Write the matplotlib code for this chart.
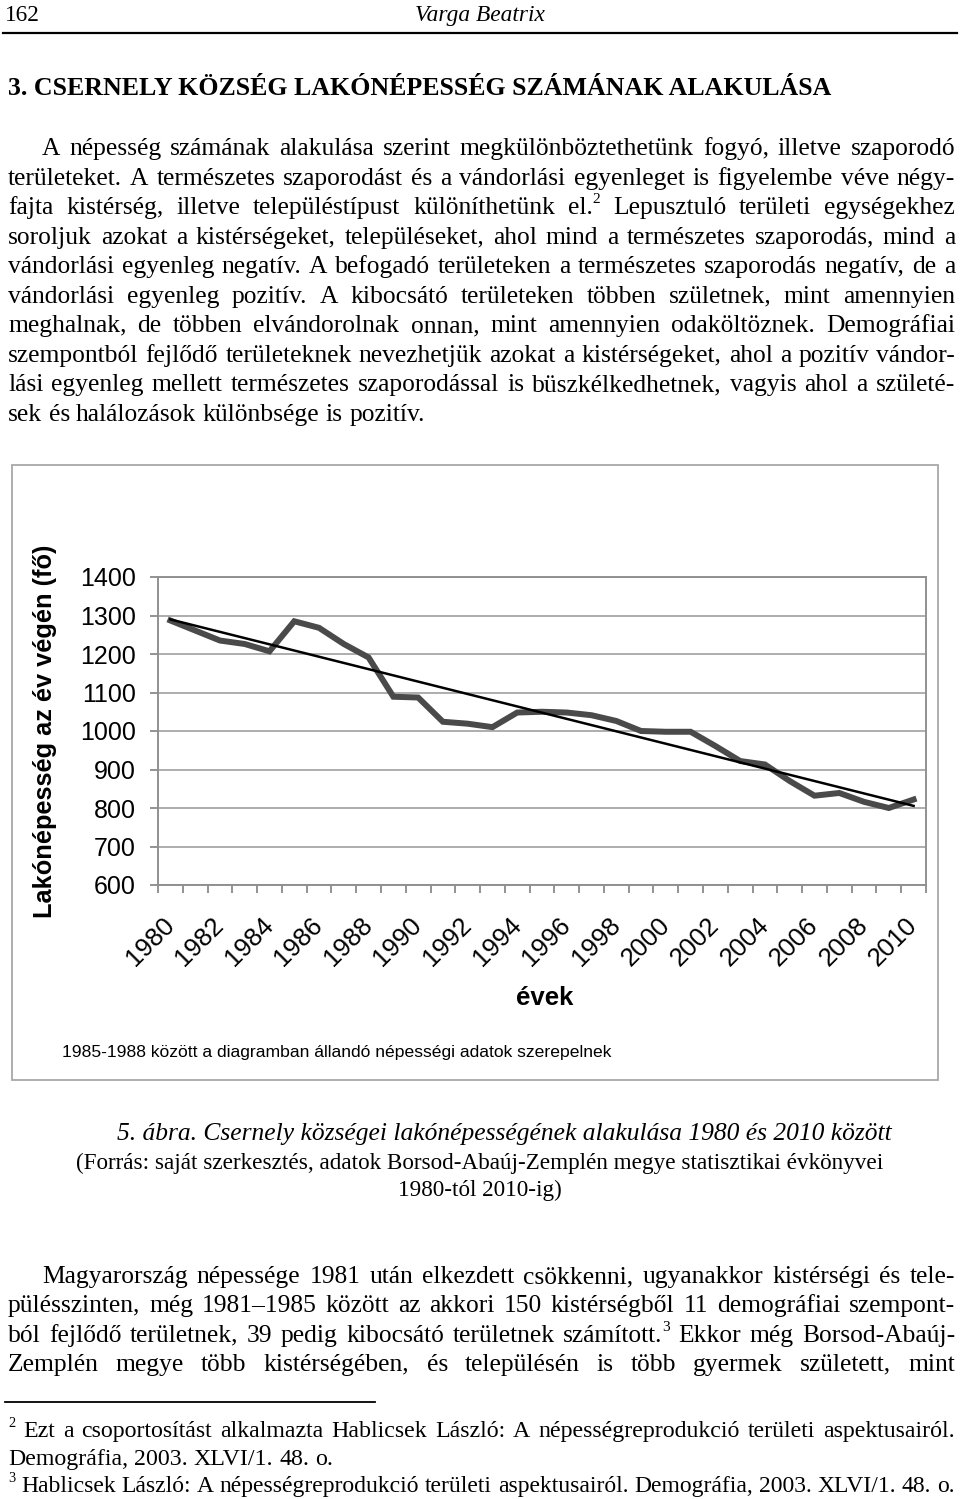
import matplotlib
matplotlib.use("Agg")
import matplotlib.pyplot as plt
from matplotlib.patches import Rectangle
from matplotlib.transforms import ScaledTranslation
import numpy as np

# data
years = list(range(1980, 2011))
population = [1287, 1261, 1235, 1226, 1207, 1285, 1268, 1226, 1191, 1089,
              1087, 1024, 1019, 1010, 1048, 1050, 1048, 1041, 1026, 1000,
              998, 998, 961, 922, 913, 870, 832, 839, 816, 800, 822]
trend_slope = -16.142
trend_intercept = 1305.9
r_squared = "0,9354"
year_labels = [str(y) for y in years[::2]]
y_ticks = list(range(600, 1401, 100))

para1 = [
    "A népesség számának alakulása szerint megkülönböztethetünk fogyó, illetve szaporodó",
    "területeket. A természetes szaporodást és a vándorlási egyenleget is figyelembe véve négy-",
    "fajta kistérség, illetve településtípust különíthetünk el.^2 Lepusztuló területi egységekhez",
    "soroljuk azokat a kistérségeket, településeket, ahol mind a természetes szaporodás, mind a",
    "vándorlási egyenleg negatív. A befogadó területeken a természetes szaporodás negatív, de a",
    "vándorlási egyenleg pozitív. A kibocsátó területeken többen születnek, mint amennyien",
    "meghalnak, de többen elvándorolnak onnan, mint amennyien odaköltöznek. Demográfiai",
    "szempontból fejlődő területeknek nevezhetjük azokat a kistérségeket, ahol a pozitív vándor-",
    "lási egyenleg mellett természetes szaporodással is büszkélkedhetnek, vagyis ahol a születé-",
    "sek és halálozások különbsége is pozitív.",
]
para2 = [
    "Magyarország népessége 1981 után elkezdett csökkenni, ugyanakkor kistérségi és tele-",
    "pülésszinten, még 1981–1985 között az akkori 150 kistérségből 11 demográfiai szempont-",
    "ból fejlődő területnek, 39 pedig kibocsátó területnek számított.^3 Ekkor még Borsod-Abaúj-",
    "Zemplén megye több kistérségében, és településén is több gyermek született, mint",
]
footnotes = [
    "^2 Ezt a csoportosítást alkalmazta Hablicsek László: A népességreprodukció területi aspektusairól.",
    "Demográfia, 2003. XLVI/1. 48. o.",
    "^3 Hablicsek László: A népességreprodukció területi aspektusairól. Demográfia, 2003. XLVI/1. 48. o.",
]

SERIF = "Liberation Serif"
SANS = "Liberation Sans"

fig = plt.figure(figsize=(9.6, 14.99), dpi=100)
page = fig.add_axes([0, 0, 1, 1])
page.set_xlim(0, 960)
page.set_ylim(1499, 0)
page.axis("off")
renderer = fig.canvas.get_renderer()


def text_width(s, size, **kw):
    t = page.text(0, 0, s, fontsize=size, family=SERIF, **kw)
    w = t.get_window_extent(renderer).width
    t.remove()
    return w


def measure(s, size, **kw):
    parts = []
    for w in s.split(" "):
        if "^" in w:
            b, sup = w.split("^")
        else:
            b, sup = w, ""
        wb = text_width(b, size, **kw) if b else 0
        ws = text_width(sup, size * 0.6, **kw) if sup else 0
        parts.append((b, sup, wb, ws))
    space = text_width("a a", size, **kw) - text_width("aa", size, **kw)
    return parts, space


def draw_line(s, x0, x1, base, size, justify=True, **kw):
    parts, space = measure(s, size, **kw)
    total = sum(p[2] + p[3] for p in parts)
    n = max(len(parts) - 1, 1)
    # shrink the line a little if it would not fit with sensible spaces
    while (x1 - x0 - total) / n < 0.6 * space or (not justify and total + n * space > x1 - x0):
        size *= 0.99
        parts, space = measure(s, size, **kw)
        total = sum(p[2] + p[3] for p in parts)
    gap = (x1 - x0 - total) / n if justify else space
    x = x0
    for b, sup, wb, ws in parts:
        if b:
            page.text(x, base, b, fontsize=size, family=SERIF, va="baseline", **kw)
        if sup:
            page.text(x + wb, base - size * 0.6, sup, fontsize=size * 0.6,
                      family=SERIF, va="baseline", **kw)
        x += wb + ws + gap


# header
page.text(5, 21, "162", fontsize=16.8, family=SERIF, va="baseline")
page.text(480, 21, "Varga Beatrix", fontsize=16.8, family=SERIF, style="italic",
          ha="center", va="baseline")
page.plot([3, 957], [33, 33], color="black", lw=1.6)
page.text(8, 95, "3. CSERNELY KÖZSÉG LAKÓNÉPESSÉG SZÁMÁNAK ALAKULÁSA",
          fontsize=18.6, family=SERIF, weight="bold", va="baseline")

BODY = 18.4
L, R = 8, 955
for i, s in enumerate(para1):
    x0 = 42 if i == 0 else L
    draw_line(s, x0, R, 155 + i * 29.5, BODY, justify=(i < len(para1) - 1))

# chart frame
page.add_patch(Rectangle((12, 465), 926, 615, fill=False, edgecolor="#a8a8a8", lw=1.3))

ax = fig.add_axes([158 / 960, 1 - 885 / 1499, (926 - 158) / 960, (885 - 577) / 1499])
xpos = np.arange(1, len(years) + 1)
ax.plot(xpos, population, color="#4a4a4a", lw=4.3, solid_joinstyle="miter", zorder=3)
ax.plot(xpos, trend_slope * xpos + trend_intercept, color="black", lw=1.8, zorder=4)
ax.set_xlim(0.5, len(years) + 0.5)
ax.set_ylim(600, 1400)
ax.set_yticks(y_ticks)
ax.set_yticklabels([str(v) for v in y_ticks], fontsize=18, family=SANS)
ax.set_xticks(xpos[::2])
ax.set_xticklabels(year_labels, fontsize=18.5, family=SANS, rotation=45,
                   ha="right", va="center", rotation_mode="anchor")
shift = ScaledTranslation(-12 / 100, 0, fig.dpi_scale_trans)
for lab in ax.get_xticklabels():
    lab.set_transform(lab.get_transform() + shift)
ax.set_xticks(np.arange(0.5, len(years) + 1), minor=True)
ax.tick_params(axis="x", which="major", length=0, pad=26)
ax.tick_params(axis="x", which="minor", length=6, color="#808080", width=1.2)
ax.tick_params(axis="y", length=6, color="#808080", width=1.2, pad=10)
ax.grid(axis="y", color="#a0a0a0", lw=1.2)
ax.set_axisbelow(True)
for sp in ax.spines.values():
    sp.set_color("#909090")
    sp.set_linewidth(1.4)

page.text(45, 731, "Lakónépesség az év végén (fő)", rotation=90, fontsize=18.3,
          family=SANS, weight="bold", ha="center", va="center")
page.text(545, 998, "évek", fontsize=18.5, family=SANS, weight="bold",
          ha="center", va="center")
page.text(62, 1052, "1985-1988 között a diagramban állandó népességi adatok szerepelnek",
          fontsize=12.6, family=SANS, va="center")
page.text(608, 637, "y = %sx + %s" % (str(trend_slope).replace(".", ","),
                                      str(trend_intercept).replace(".", ",")),
          fontsize=18.5, family=SANS, ha="center", va="center")
page.text(608, 675, "R² = " + r_squared, fontsize=18.5, family=SANS,
          ha="center", va="center")

# caption
page.text(504, 1140, "5. ábra. Csernely községei lakónépességének alakulása 1980 és 2010 között",
          fontsize=18.4, family=SERIF, style="italic", ha="center", va="baseline")
page.text(480, 1169, "(Forrás: saját szerkesztés, adatok Borsod-Abaúj-Zemplén megye statisztikai évkönyvei",
          fontsize=16.7, family=SERIF, ha="center", va="baseline")
page.text(480, 1196, "1980-tól 2010-ig)", fontsize=16.7, family=SERIF, ha="center", va="baseline")

for i, s in enumerate(para2):
    x0 = 42 if i == 0 else L
    draw_line(s, x0, R, 1283 + i * 29.3, BODY, justify=True)

page.plot([5, 375], [1402, 1402], color="black", lw=1.3)
FOOT = 17.2
draw_line(footnotes[0], 8, R, 1437, FOOT, justify=True)
draw_line(footnotes[1], 8, R, 1465, FOOT, justify=False)
draw_line(footnotes[2], 8, R, 1492, FOOT, justify=False)

fig.savefig("out.png", dpi=100)
